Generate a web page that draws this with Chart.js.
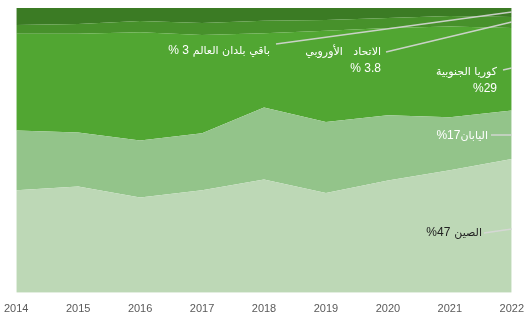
<!DOCTYPE html>
<html>
<head>
<meta charset="utf-8">
<script src="https://cdn.jsdelivr.net/npm/chart.js@4.4.0/dist/chart.umd.min.js"></script>
<style>
  html, body { margin: 0; padding: 0; background: #fff; overflow: hidden; width: 528px; height: 320px; }
  #box { position: relative; width: 528px; height: 320px; overflow: hidden; }
  #mycanvas { position: absolute; left: -6px; top: 0; }
</style>
</head>
<body>
<div id="box"><canvas id="mycanvas" width="540" height="320"></canvas></div>
<script>
// years on the x axis
var years = ['2014', '2015', '2016', '2017', '2018', '2019', '2020', '2021', '2022'];

// share of each producer, percent (stacked bottom -> top)
var china = [36, 37.3, 33.5, 36, 39.8, 35, 39.4, 43, 47];
var japan = [21, 19, 20, 20, 25.3, 25, 22.9, 18.6, 17];
var korea = [34, 34.7, 38, 34.5, 26, 32, 30.7, 31.9, 29];
var eu = [3, 3.4, 3.9, 4.2, 4.4, 3.8, 3.5, 3.7, 3.8];
var rest = [6, 5.6, 4.6, 5.3, 4.5, 4.2, 3.5, 2.8, 3.2];

var arFont = '11px "DejaVu Sans", sans-serif';
var numFont = '12px Arial, "Liberation Sans", sans-serif';

// labels with leader lines, drawn on top of the areas
var labelPlugin = {
  id: 'labels',
  afterDatasetsDraw: function (chart) {
    var c = chart.ctx;
    var a = chart.chartArea;
    c.save();
    c.textBaseline = 'middle';

    function line(x1, y1, x2, y2) {
      c.beginPath();
      c.strokeStyle = 'rgba(215,215,215,0.9)';
      c.lineWidth = 1.5;
      c.moveTo(x1, y1);
      c.lineTo(x2, y2);
      c.stroke();
    }
    // draw arabic word right aligned at x, then the number to its left
    function txt(ar, num, x, y, color, gap) {
      c.fillStyle = color;
      c.textAlign = 'right';
      var w = 0;
      if (ar) {
        c.font = arFont;
        c.direction = 'rtl';
        c.fillText(ar, x, y);
        c.direction = 'ltr';
        w = c.measureText(ar).width + (gap || 0);
      }
      if (num) {
        c.font = numFont;
        c.fillText(num, x - w, y);
      }
    }

    var ox = 6; // canvas is shifted left
    line(276 + ox, 44, a.right, 12);
    txt('باقي بلدان العالم', '% 3', 270 + ox, 51, '#fff', 4);

    line(386 + ox, 52, a.right, 22);
    txt('الاتحاد   الأوروبي', null, 381 + ox, 52, '#fff');
    txt(null, '% 3.8', 381 + ox, 69, '#fff');

    line(503 + ox, 70, a.right, 68);
    txt('كوريا الجنوبية', null, 497 + ox, 72, '#fff');
    txt(null, '%29', 497 + ox, 89, '#fff');

    line(491 + ox, 135, a.right, 135);
    txt('اليابان', '%17', 488 + ox, 136, '#fff', 0);

    line(484 + ox, 233, a.right, 229);
    txt('الصين', '%47', 482 + ox, 233, '#222', 4);

    c.restore();
  }
};

function area(label, data, color, fill) {
  return {
    label: label,
    data: data,
    backgroundColor: color,
    borderWidth: 0,
    pointRadius: 0,
    tension: 0,
    fill: fill
  };
}

var ctx = document.getElementById('mycanvas');
var chart = new Chart(ctx, {
  type: 'line',
  data: {
    labels: years,
    datasets: [
      area('الصين', china, '#bdd8b6', 'origin'),
      area('اليابان', japan, '#93c48a', '-1'),
      area('كوريا الجنوبية', korea, '#51a632', '-1'),
      area('الاتحاد الأوروبي', eu, '#47912b', '-1'),
      area('باقي بلدان العالم', rest, '#3b7b24', '-1')
    ]
  },
  options: {
    responsive: false,
    animation: false,
    layout: { padding: { left: 22, right: 18, top: 8, bottom: -6 } },
    plugins: {
      legend: { display: false },
      tooltip: { enabled: false }
    },
    scales: {
      x: {
        offset: false,
        grid: { display: false, drawTicks: false },
        border: { display: false },
        ticks: {
          color: '#5a5a5a',
          font: { size: 11, family: 'Arial, "Liberation Sans", sans-serif' },
          padding: 10,
          maxRotation: 0,
          autoSkip: false
        }
      },
      y: {
        display: false,
        stacked: true,
        min: 0,
        max: 100
      }
    }
  },
  plugins: [labelPlugin]
});
</script>
</body>
</html>
